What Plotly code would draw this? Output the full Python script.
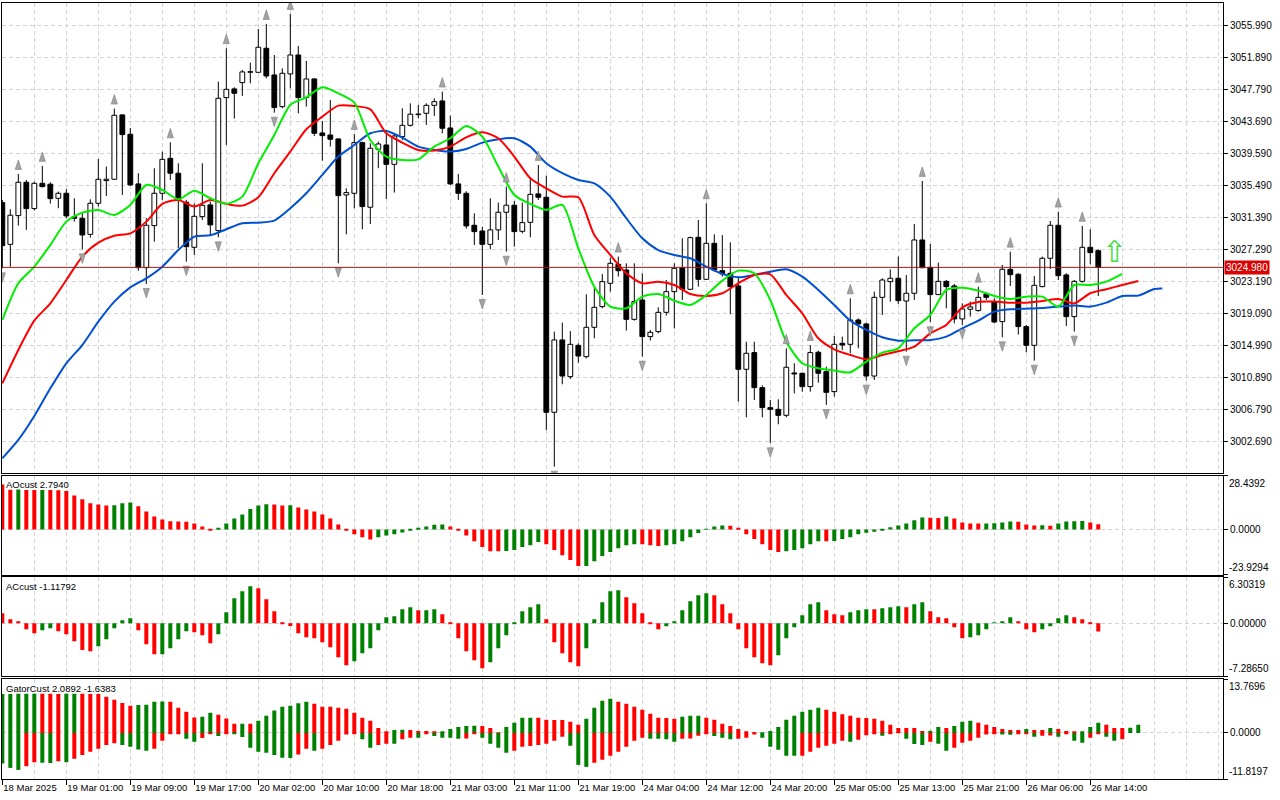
import numpy as np
import plotly.graph_objects as go

# x axis labels, one every 8 hourly bars
time_labels = ["18 Mar 2025", "19 Mar 01:00", "19 Mar 09:00", "19 Mar 17:00", "20 Mar 02:00",
               "20 Mar 10:00", "20 Mar 18:00", "21 Mar 03:00", "21 Mar 11:00", "21 Mar 19:00",
               "24 Mar 04:00", "24 Mar 12:00", "24 Mar 20:00", "25 Mar 05:00", "25 Mar 13:00",
               "25 Mar 21:00", "26 Mar 06:00", "26 Mar 14:00"]

open_ = [3033.28, 3027.93, 3031.61, 3035.88, 3032.51, 3035.75, 3035.63, 3033.83, 3034.47, 3031.48,
         3031.27, 3029.21, 3033.19, 3036.10, 3036.27, 3044.51, 3042.03, 3035.67, 3024.94, 3030.33,
         3034.47, 3038.95, 3037.04, 3033.32, 3027.55, 3031.48, 3032.98, 3029.69, 3046.73, 3047.84,
         3048.65, 3049.97, 3049.97, 3053.05, 3049.63, 3045.57, 3049.76, 3052.19, 3046.73, 3049.12,
         3042.20, 3041.94, 3041.43, 3034.26, 3034.47, 3040.96, 3032.68, 3040.11, 3040.66, 3038.18,
         3041.73, 3043.18, 3044.55, 3044.72, 3045.74, 3046.30, 3042.84, 3035.67, 3034.47, 3030.37,
         3029.64, 3027.93, 3029.78, 3032.04, 3032.94, 3029.60, 3030.75, 3034.39, 3033.96, 3006.41,
         3015.68, 3010.98, 3014.99, 3013.54, 3017.30, 3019.95, 3022.94, 3025.37, 3024.64, 3018.32,
         3020.80, 3016.11, 3016.75, 3019.22, 3021.87, 3024.94, 3022.17, 3028.83, 3023.45, 3028.06,
         3024.55, 3024.22, 3022.60, 3011.92, 3014.06, 3009.57, 3007.01, 3006.79, 3006.02, 3011.45,
         3011.41, 3009.70, 3014.10, 3011.62, 3009.06, 3015.25, 3015.12, 3018.24, 3017.73, 3011.06,
         3021.14, 3023.15, 3023.58, 3020.67, 3021.66, 3028.49, 3024.98, 3021.49, 3023.19, 3022.60,
         3018.37, 3019.61, 3019.44, 3021.57, 3020.59, 3018.03, 3024.73, 3024.09, 3017.39, 3014.99,
         3022.51, 3026.14, 3030.37, 3024.01, 3018.67, 3023.19, 3027.55, 3027.12]
high_ = [3033.62, 3032.42, 3036.95, 3036.18, 3035.97, 3037.98, 3035.88, 3034.69, 3034.99, 3033.83,
         3031.91, 3033.70, 3038.87, 3037.89, 3045.32, 3044.60, 3042.84, 3037.04, 3031.27, 3037.68,
         3039.81, 3041.00, 3038.31, 3033.62, 3033.19, 3038.31, 3033.40, 3048.78, 3053.05, 3048.05,
         3050.27, 3051.21, 3055.52, 3056.17, 3052.19, 3050.48, 3057.45, 3053.35, 3051.42, 3049.20,
         3043.74, 3046.43, 3041.52, 3035.11, 3042.07, 3041.09, 3040.88, 3041.09, 3042.16, 3042.16,
         3045.36, 3046.00, 3045.79, 3046.00, 3046.64, 3047.50, 3044.42, 3036.95, 3034.73, 3031.91,
         3030.20, 3033.83, 3033.28, 3035.33, 3033.49, 3033.28, 3036.52, 3038.10, 3036.73, 3016.75,
         3017.90, 3016.83, 3015.25, 3021.53, 3022.30, 3024.14, 3026.23, 3026.36, 3025.50, 3025.50,
         3024.22, 3016.96, 3019.86, 3023.36, 3025.50, 3028.70, 3028.92, 3031.05, 3033.19, 3029.21,
         3029.13, 3028.19, 3023.79, 3015.46, 3015.46, 3009.87, 3007.99, 3008.08, 3014.61, 3012.69,
         3011.49, 3015.03, 3014.31, 3012.26, 3016.19, 3016.11, 3021.01, 3018.45, 3017.90, 3021.87,
         3023.58, 3024.73, 3026.36, 3024.01, 3030.54, 3036.05, 3027.97, 3025.58, 3023.36, 3022.85,
         3020.37, 3020.59, 3022.50, 3021.74, 3021.01, 3025.29, 3026.99, 3024.22, 3017.60, 3023.87,
         3026.36, 3030.92, 3032.12, 3024.22, 3023.36, 3030.29, 3029.86, 3027.29]
low_ = [3024.86, 3025.07, 3030.33, 3029.78, 3032.25, 3035.20, 3033.15, 3032.55, 3031.27, 3030.84,
        3027.29, 3028.79, 3032.77, 3034.13, 3036.18, 3034.26, 3035.41, 3024.55, 3022.85, 3028.27,
        3033.62, 3036.18, 3027.42, 3025.71, 3026.57, 3031.05, 3029.13, 3028.83, 3040.66, 3044.04,
        3046.94, 3048.56, 3049.93, 3049.20, 3044.80, 3045.36, 3047.92, 3044.72, 3045.57, 3041.81,
        3038.65, 3040.45, 3025.50, 3029.21, 3032.55, 3029.86, 3030.54, 3037.68, 3033.74, 3034.56,
        3041.30, 3043.01, 3044.08, 3043.23, 3044.38, 3042.16, 3035.54, 3033.62, 3029.94, 3027.85,
        3021.44, 3027.29, 3028.49, 3026.99, 3027.63, 3029.34, 3028.83, 3033.62, 3004.15, 2999.45,
        3010.00, 3010.68, 3012.77, 3013.32, 3015.89, 3019.73, 3021.87, 3023.79, 3016.88, 3018.15,
        3013.54, 3015.59, 3016.53, 3018.80, 3017.17, 3020.80, 3022.09, 3022.51, 3023.36, 3024.43,
        3023.79, 3018.97, 3007.78, 3005.77, 3007.99, 3005.77, 3002.44, 3004.87, 3005.77, 3008.84,
        3009.06, 3009.06, 3010.21, 3007.35, 3008.42, 3014.40, 3013.97, 3014.61, 3010.47, 3010.56,
        3018.88, 3020.59, 3020.29, 3014.18, 3020.80, 3024.86, 3017.94, 3021.44, 3019.73, 3017.81,
        3017.60, 3018.67, 3019.31, 3020.80, 3017.81, 3016.02, 3022.60, 3016.36, 3014.10, 3013.03,
        3022.43, 3024.77, 3023.36, 3017.47, 3016.75, 3023.02, 3025.37, 3021.32]
close_ = [3027.76, 3031.66, 3035.88, 3032.51, 3035.75, 3035.33, 3033.79, 3034.47, 3031.57, 3031.27,
          3029.13, 3033.19, 3036.27, 3036.27, 3044.47, 3041.99, 3035.54, 3024.94, 3030.37, 3034.47,
          3038.82, 3037.04, 3033.62, 3027.63, 3031.52, 3032.94, 3030.42, 3046.64, 3047.79, 3047.28,
          3050.02, 3050.06, 3053.18, 3049.50, 3045.45, 3049.84, 3052.19, 3046.73, 3049.12, 3042.16,
          3041.86, 3041.39, 3034.17, 3034.56, 3040.96, 3032.77, 3040.24, 3040.79, 3038.18, 3041.81,
          3043.18, 3044.60, 3044.63, 3045.74, 3046.21, 3042.80, 3035.67, 3034.47, 3030.29, 3029.56,
          3027.93, 3029.78, 3032.04, 3032.94, 3029.56, 3030.71, 3034.34, 3033.96, 3006.41, 3015.68,
          3011.06, 3015.12, 3013.62, 3017.30, 3019.86, 3023.15, 3025.50, 3024.55, 3018.32, 3020.59,
          3016.11, 3016.66, 3019.22, 3021.87, 3024.86, 3022.17, 3028.79, 3023.45, 3028.06, 3024.64,
          3024.14, 3022.51, 3011.92, 3013.97, 3009.57, 3007.01, 3006.79, 3006.02, 3012.18, 3011.32,
          3009.70, 3014.06, 3011.41, 3008.97, 3015.12, 3015.03, 3018.24, 3017.73, 3011.06, 3021.14,
          3023.36, 3023.58, 3020.72, 3021.66, 3028.49, 3024.94, 3021.49, 3023.19, 3022.51, 3018.37,
          3019.65, 3019.91, 3021.14, 3021.14, 3017.98, 3024.73, 3024.05, 3017.39, 3014.99, 3022.68,
          3026.14, 3030.37, 3023.92, 3018.67, 3023.19, 3027.55, 3026.87, 3024.98]

# alligator lines, read every second bar (they run past the last bar by their shift)
jaw_bar = list(range(0, 145, 2)) + [145]
jaw = [3000.52, 3002.87, 3005.94, 3009.48, 3012.69, 3015.03, 3018.02, 3020.59, 3022.42, 3023.58,
       3025.07, 3027.20, 3028.92, 3029.09, 3029.86, 3030.63, 3030.71, 3030.97, 3032.55, 3034.47,
       3036.82, 3039.17, 3040.66, 3042.16, 3042.46, 3041.60, 3040.45, 3040.02, 3039.81, 3040.15,
       3040.96, 3041.39, 3041.52, 3040.45, 3038.31, 3037.04, 3036.18, 3035.75, 3034.04, 3031.27,
       3028.70, 3027.20, 3026.57, 3026.14, 3025.07, 3024.14, 3023.71, 3024.01, 3024.43, 3024.73,
       3023.79, 3022.09, 3020.16, 3018.15, 3016.96, 3016.02, 3015.59, 3015.63, 3015.68, 3016.11,
       3017.17, 3018.15, 3019.31, 3019.61, 3019.69, 3019.78, 3019.95, 3020.08, 3019.95, 3020.46,
       3021.32, 3021.36, 3022.21, 3022.26]
teeth_bar = list(range(0, 143, 2))
teeth = [3010.12, 3014.40, 3018.15, 3020.37, 3023.36, 3026.36, 3028.15, 3029.04, 3029.34, 3030.84,
         3033.11, 3033.62, 3032.77, 3033.62, 3033.11, 3032.89, 3033.96, 3037.04, 3039.81, 3042.67,
         3044.29, 3045.70, 3045.66, 3045.23, 3042.16, 3040.96, 3040.02, 3039.94, 3040.45, 3041.64,
         3042.28, 3041.52, 3039.17, 3036.39, 3035.11, 3034.04, 3033.96, 3029.13, 3026.57, 3024.22,
         3022.94, 3023.15, 3022.72, 3021.57, 3021.32, 3021.66, 3022.94, 3024.01, 3024.09, 3021.44,
         3019.09, 3015.89, 3014.48, 3013.76, 3013.20, 3013.76, 3014.23, 3014.82, 3016.53, 3017.60,
         3019.86, 3020.55, 3020.59, 3020.46, 3020.46, 3020.67, 3020.93, 3020.37, 3021.66, 3022.17,
         3022.72, 3023.24]
lips_bar = list(range(0, 141, 2))
lips = [3018.24, 3022.94, 3025.07, 3027.85, 3030.84, 3031.99, 3032.34, 3031.69, 3032.98, 3035.54,
        3034.90, 3033.70, 3034.81, 3033.83, 3033.11, 3034.04, 3038.31, 3041.94, 3045.79, 3046.77,
        3048.05, 3047.28, 3046.09, 3041.30, 3039.17, 3038.74, 3038.82, 3040.45, 3041.52, 3043.10,
        3041.73, 3037.89, 3034.26, 3033.11, 3032.34, 3032.98, 3027.42, 3022.51, 3019.95, 3019.73,
        3021.23, 3021.57, 3020.72, 3020.16, 3021.44, 3023.28, 3024.56, 3024.22, 3020.80, 3015.46,
        3012.69, 3012.05, 3011.75, 3011.54, 3012.90, 3014.06, 3014.61, 3017.17, 3018.88, 3022.09,
        3022.38, 3022.00, 3021.32, 3020.93, 3021.23, 3021.23, 3019.95, 3022.72, 3022.72, 3023.15,
        3024.14]

fractal_up = [2, 5, 14, 21, 28, 33, 36, 44, 55, 63, 67, 77, 88, 98, 101, 106, 115, 122, 126, 132, 135]
fractal_dn = [0, 10, 18, 23, 27, 34, 42, 60, 63, 69, 80, 96, 103, 108, 113, 116, 120, 125, 129, 134]

signal_bar = [139]
signal_price = [3027.0]

ao = [23.8, 21.0, 21.1, 20.9, 20.8, 20.9, 20.8, 20.7, 20.3, 18.0,
      15.9, 13.8, 13.2, 12.7, 12.8, 13.8, 14.3, 12.2, 9.5, 6.9,
      5.3, 4.3, 4.2, 4.1, 3.2, 1.6, -0.3, 0.5, 3.2, 5.8,
      7.9, 10.8, 12.7, 13.3, 13.2, 12.7, 12.8, 11.6, 10.6, 9.5,
      7.9, 5.8, 2.6, -0.6, -2.6, -4.2, -5.3, -4.2, -3.2, -2.6,
      -1.6, -0.3, 0.5, 1.6, 2.5, 2.6, 1.6, -0.3, -3.2, -6.2,
      -9.3, -11.5, -11.6, -11.4, -10.9, -9.3, -8.3, -6.7, -7.8, -10.9,
      -13.6, -16.2, -19.4, -19.3, -16.8, -14.1, -12.0, -9.9, -8.3, -7.8,
      -7.9, -8.4, -8.8, -8.3, -7.8, -6.2, -4.1, -1.9, 0.1, 1.6,
      2.1, 2.0, 0.5, -2.6, -5.1, -7.8, -10.9, -12.0, -11.5, -10.9,
      -9.9, -7.8, -6.2, -6.3, -6.1, -5.1, -4.1, -2.6, -1.8, -1.2,
      -0.2, 1.1, 2.1, 3.2, 4.8, 6.3, 6.2, 6.1, 6.9, 5.8,
      3.7, 3.2, 3.1, 3.2, 3.3, 3.7, 4.2, 4.1, 2.6, 2.1,
      2.2, 2.0, 3.2, 4.2, 4.3, 4.4, 3.7, 2.794]
ac = [1.37, 0.55, 0.18, -0.82, -1.37, -0.96, -0.69, -1.10, -1.51, -2.47,
      -3.66, -3.84, -3.16, -2.20, -0.69, 0.41, 0.69, -0.96, -2.88, -4.26,
      -4.25, -3.43, -2.20, -1.10, -1.24, -1.65, -2.75, -1.51, 1.51, 3.43,
      4.39, 5.08, 4.81, 3.30, 1.65, -0.05, -0.37, -1.37, -1.92, -2.06,
      -2.61, -3.30, -4.67, -5.77, -5.22, -4.12, -3.43, -0.96, 0.82, 0.96,
      1.92, 2.20, 1.78, 1.80, 1.92, 1.24, -0.09, -2.06, -3.84, -5.08,
      -6.18, -5.35, -3.43, -1.65, -0.05, 1.65, 2.20, 2.61, 0.55, -2.61,
      -4.12, -5.35, -5.90, -3.43, 0.55, 2.88, 4.39, 4.53, 3.57, 2.75,
      1.37, -0.09, -0.82, -0.41, 0.27, 1.78, 3.02, 3.84, 4.12, 3.84,
      2.61, 1.37, -0.82, -3.43, -4.67, -5.49, -5.77, -4.39, -2.06, -0.55,
      1.10, 2.61, 2.88, 1.78, 1.24, 1.10, 1.51, 1.78, 1.92, 1.91,
      2.06, 2.20, 2.33, 2.19, 2.61, 2.88, 1.65, 0.82, 0.69, -0.55,
      -2.06, -1.92, -1.65, -0.82, 0.05, 0.27, 0.82, 0.27, -0.82, -1.24,
      -0.82, -0.41, 0.69, 1.10, 0.82, 0.55, -0.05, -1.11792]
gator_up = [10.00, 10.02, 10.04, 10.06, 10.08, 10.06, 10.04, 10.02, 10.04, 10.06,
            10.04, 10.02, 10.00, 9.31, 8.53, 7.67, 6.98, 7.16, 7.24, 8.02,
            8.05, 8.02, 6.47, 5.43, 3.97, 4.14, 5.17, 4.66, 3.71, 2.33,
            2.35, 2.33, 3.10, 4.40, 5.78, 6.72, 6.98, 7.59, 8.02, 7.50,
            6.72, 6.70, 6.47, 6.21, 5.17, 3.88, 3.10, 1.29, 0.26, 0.78,
            0.80, 0.78, 0.52, 0.50, 0.26, 0.28, 1.03, 1.55, 1.81, 1.83,
            1.81, 1.29, 0.09, 1.55, 2.59, 3.88, 3.90, 3.88, 3.36, 3.34,
            3.32, 2.84, 2.07, 3.62, 6.47, 8.28, 8.79, 8.02, 7.50, 6.72,
            5.95, 4.91, 3.88, 3.86, 3.62, 4.14, 4.40, 4.42, 3.88, 3.36,
            2.33, 1.81, 1.03, 0.26, 0.09, 0.10, 0.52, 1.55, 3.36, 4.40,
            5.43, 5.95, 6.47, 5.95, 5.43, 4.80, 4.40, 3.88, 3.86, 3.62,
            3.10, 2.07, 1.29, 1.27, 1.25, 0.52, 0.55, 1.55, 1.29, 1.81,
            2.84, 3.10, 2.59, 2.07, 1.55, 1.03, 0.78, 0.76, 1.03, 0.78,
            0.76, 1.29, 1.03, 0.52, 0.26, 0.28, 1.55, 2.59, 2.07, 1.29,
            1.25, 1.30, 2.0892]
gator_dn = [-7.84, -8.97, -9.48, -8.53, -7.50, -7.67, -7.69, -7.24, -7.50, -6.64,
            -5.69, -4.83, -4.05, -3.10, -2.67, -3.10, -3.53, -4.22, -4.57, -4.05,
            -1.98, -0.17, -0.16, -1.47, -2.24, -1.29, -0.26, -0.78, -0.09, -0.17,
            -1.03, -3.79, -4.83, -5.09, -5.69, -6.38, -6.40, -5.52, -4.05, -4.57,
            -4.05, -3.10, -1.98, -0.43, -0.09, -1.64, -3.79, -3.10, -2.76, -2.78,
            -1.64, -1.21, -1.23, -0.17, -0.78, -1.21, -1.23, -1.47, -1.45, -0.17,
            -1.21, -2.76, -3.79, -5.09, -4.57, -3.53, -3.36, -3.10, -2.76, -1.98,
            -0.95, -3.28, -8.19, -8.71, -7.67, -6.90, -5.86, -4.83, -3.53, -1.98,
            -1.21, -1.47, -1.49, -1.64, -2.24, -1.47, -1.45, -0.69, -0.17, -0.78,
            -1.21, -1.64, -1.47, -1.21, -0.43, -1.21, -3.53, -4.31, -5.86, -5.88,
            -5.86, -4.83, -3.79, -3.28, -2.76, -1.98, -2.24, -1.72, -0.60, -0.17,
            -0.69, -0.09, -0.05, -1.47, -2.84, -3.10, -2.24, -2.76, -4.57, -3.79,
            -2.50, -1.98, -1.21, -0.43, -0.17, -0.43, -0.45, -0.17, -0.09, -0.95,
            -0.69, -0.67, -0.95, -0.09, -1.98, -2.50, -1.21, -0.17, -0.95, -1.98,
            -1.6383]

price_ticks = [3055.99, 3051.89, 3047.79, 3043.69, 3039.59, 3035.49, 3031.39,
               3027.29, 3023.19, 3019.09, 3014.99, 3010.89, 3006.79, 3002.69]
price_range = [2998.63, 3058.85]
ao_range = [-23.9294, 28.4392]
ac_range = [-7.28650, 6.30319]
gator_range = [-11.8197, 13.7696]

GREEN = "#008000"
RED = "#FF0000"
GRID = "#d4d4d4"
FONT = "Liberation Sans"
XSIZE = 9.5
YSIZE = 10

o, h, l, c = map(np.array, (open_, high_, low_, close_))
n = len(c)
bars = np.arange(n)
body_lo = np.minimum(o, c)
body_hi = np.maximum(o, c)

fig = go.Figure()

# candle bodies
fig.add_trace(go.Bar(x=bars, y=body_hi - body_lo, base=body_lo, width=0.6,
                     marker=dict(color=np.where(c >= o, "white", "black"),
                                 line=dict(color="black", width=1)),
                     xaxis="x", yaxis="y", hoverinfo="skip"))

# wicks, split so they don't cross the hollow bodies
wx, wy = [], []
for i in range(n):
    wx += [i, i, None, i, i, None]
    wy += [h[i], body_hi[i], None, body_lo[i], l[i], None]
fig.add_trace(go.Scatter(x=wx, y=wy, mode="lines", line=dict(color="black", width=1),
                         xaxis="x", yaxis="y", hoverinfo="skip"))

# alligator
for xs, ys, col in [(jaw_bar, jaw, "#0050D2"), (teeth_bar, teeth, "#FF0000"), (lips_bar, lips, "#00EE00")]:
    fig.add_trace(go.Scatter(x=xs, y=ys, mode="lines",
                             line=dict(color=col, width=2, shape="spline", smoothing=0.7),
                             xaxis="x", yaxis="y", hoverinfo="skip"))

# fractals (marker tip sits at the point, body trails behind it)
fig.add_trace(go.Scatter(x=fractal_up, y=h[fractal_up] + 1.8, mode="markers",
                         marker=dict(symbol="arrow", size=10, angle=0, color="#a4a4a4",
                                     line=dict(color="#7a7a7a", width=0.6)),
                         xaxis="x", yaxis="y", hoverinfo="skip"))
fig.add_trace(go.Scatter(x=fractal_dn, y=l[fractal_dn] - 1.8, mode="markers",
                         marker=dict(symbol="arrow", size=10, angle=180, color="#a4a4a4",
                                     line=dict(color="#7a7a7a", width=0.6)),
                         xaxis="x", yaxis="y", hoverinfo="skip"))


def hist_colors(vals, first_up, use_abs=False):
    v = np.abs(vals) if use_abs else np.array(vals)
    up = np.r_[first_up, np.diff(v) > 0]
    return np.where(up, GREEN, RED)


fig.add_trace(go.Bar(x=bars, y=ao, width=0.5, marker=dict(color=hist_colors(ao, False), line_width=0),
                     xaxis="x2", yaxis="y2", hoverinfo="skip"))
fig.add_trace(go.Bar(x=bars, y=ac, width=0.5, marker=dict(color=hist_colors(ac, False), line_width=0),
                     xaxis="x3", yaxis="y3", hoverinfo="skip"))
fig.add_trace(go.Bar(x=np.arange(len(gator_up)), y=gator_up, width=0.5,
                     marker=dict(color=hist_colors(gator_up, True), line_width=0),
                     xaxis="x4", yaxis="y4", hoverinfo="skip"))
fig.add_trace(go.Bar(x=np.arange(len(gator_dn)), y=gator_dn, width=0.5,
                     marker=dict(color=hist_colors(gator_dn, True, use_abs=True), line_width=0),
                     xaxis="x4", yaxis="y4", hoverinfo="skip"))

x_range = [-0.04, 152.59]
label_bars = list(range(0, 8 * len(time_labels), 8))
grid_bars = list(range(0, 153, 4))


def xaxis_cfg(bottom=False):
    cfg = dict(range=x_range, showline=True, linecolor="black", linewidth=1, mirror=True,
               zeroline=False, showgrid=True, gridcolor=GRID, griddash="4px,3px", gridwidth=1,
               tickmode="array", tickvals=label_bars, automargin=False, tickangle=0,
               minor=dict(tickmode="array", tickvals=grid_bars, showgrid=True, gridcolor=GRID,
                          griddash="4px,3px", gridwidth=1, ticks=""))
    if bottom:
        cfg.update(ticktext=time_labels, ticks="outside", ticklen=5, tickcolor="black",
                   ticklabelposition="outside right",
                   tickfont=dict(family=FONT, size=XSIZE, color="black"))
    else:
        cfg.update(showticklabels=False, ticks="")
    return cfg


def yaxis_cfg(rng, dom, vals, text, fmt=None):
    cfg = dict(range=rng, domain=dom, side="right", showline=True, linecolor="black", linewidth=1,
               mirror=True, zeroline=False, showgrid=True, gridcolor=GRID, griddash="4px,3px",
               tickmode="array", tickvals=vals, ticks="outside", ticklen=4, tickcolor="black",
               automargin=False, tickfont=dict(family=FONT, size=YSIZE, color="black"))
    if text is not None:
        cfg["ticktext"] = text
    if fmt:
        cfg["tickformat"] = fmt
    return cfg


fig.update_layout(
    width=1280, height=800,
    margin=dict(l=2, r=57, t=3, b=21, autoexpand=False),
    plot_bgcolor="white", paper_bgcolor="white",
    showlegend=False, barmode="overlay",
    font=dict(family=FONT, size=YSIZE, color="black"),
    xaxis=dict(anchor="y", **xaxis_cfg()),
    xaxis2=dict(anchor="y2", matches="x", **xaxis_cfg()),
    xaxis3=dict(anchor="y3", matches="x", **xaxis_cfg()),
    xaxis4=dict(anchor="y4", matches="x", **xaxis_cfg(bottom=True)),
    yaxis=dict(anchor="x", **yaxis_cfg(price_range, [0.3943, 1.0], price_ticks, None, ".3f")),
    yaxis2=dict(anchor="x2", **yaxis_cfg(ao_range, [0.2633, 0.3909], [ao_range[0], 0, ao_range[1]],
                                         ["", "0.0000", ""])),
    yaxis3=dict(anchor="x3", **yaxis_cfg(ac_range, [0.1323, 0.2599], [ac_range[0], 0, ac_range[1]],
                                         ["", "0.00000", ""])),
    yaxis4=dict(anchor="x4", **yaxis_cfg(gator_range, [0.0, 0.1285], [gator_range[0], 0, gator_range[1]],
                                         ["", "0.0000", ""])),
)

# bid line and its price box
fig.add_shape(type="line", xref="paper", x0=0, x1=1, yref="y", y0=close_[-1], y1=close_[-1],
              line=dict(color="#a01818", width=1))
fig.add_annotation(xref="paper", x=1, xanchor="left", xshift=1, yref="y", y=close_[-1],
                   text=f"{close_[-1]:.3f}", showarrow=False, bgcolor="#dc0000",
                   font=dict(family=FONT, size=YSIZE, color="white"), borderpad=1)

# scale extremes of the indicator windows
for yref, rng, fmt in [("y2", ao_range, "{:.4f}"), ("y3", ac_range, "{:.5f}"), ("y4", gator_range, "{:.4f}")]:
    fig.add_annotation(xref="paper", x=1, xanchor="left", xshift=4, yref=yref, y=rng[1], yanchor="top",
                       text=fmt.format(rng[1]), showarrow=False, font=dict(family=FONT, size=YSIZE))
    fig.add_annotation(xref="paper", x=1, xanchor="left", xshift=4, yref=yref, y=rng[0], yanchor="bottom",
                       text=fmt.format(rng[0]), showarrow=False, font=dict(family=FONT, size=YSIZE))

# indicator captions
captions = [(0.3793, f"AOcust {ao[-1]:.4f}"),
            (0.2478, f"ACcust {ac[-1]:.5f}"),
            (0.1164, f"GatorCust {gator_up[-1]:.4f} {gator_dn[-1]:.4f}")]
for yy, txt in captions:
    fig.add_annotation(xref="paper", x=0.0016, xanchor="left", yref="paper", y=yy, yanchor="middle",
                       text=txt, showarrow=False, font=dict(family=FONT, size=9.5, color="black"))

# buy signal arrow
fig.add_annotation(x=signal_bar[0], y=signal_price[0], xref="x", yref="y", text="⇧", showarrow=False,
                   font=dict(family="DejaVu Sans", size=30, color="#44dd44"))

# the page's default body margin would push the figure 8px off the window
fig.write_html("out.html", config={"displayModeBar": False},
               post_script="document.body.style.margin='0px';")
